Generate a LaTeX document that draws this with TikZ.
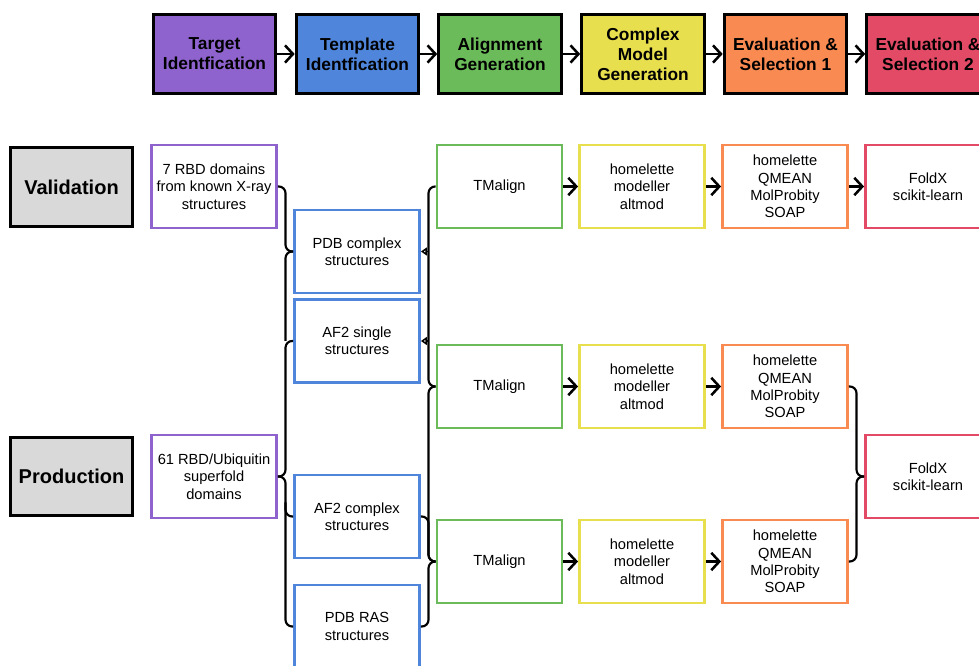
\documentclass[tikz,border=0pt]{standalone}
\usepackage{fontspec}
\setmainfont{Liberation Sans}
\usepackage{xcolor}
\usetikzlibrary{arrows.meta,calc}

\definecolor{tpurple}{RGB}{142,99,206}
\definecolor{tblue}{RGB}{79,134,219}
\definecolor{tgreen}{RGB}{108,187,90}
\definecolor{tyellow}{RGB}{232,223,79}
\definecolor{torange}{RGB}{249,139,82}
\definecolor{tred}{RGB}{226,74,101}
\definecolor{tgray}{RGB}{217,217,217}

\tikzset{
  stage/.style={draw=black, line width=2.2pt, minimum width=92pt, minimum height=59pt,
    align=center, inner sep=1pt, font=\bfseries\fontsize{13pt}{15pt}\selectfont},
  phase/.style={stage, fill=tgray, font=\bfseries\fontsize{15pt}{18pt}\selectfont},
  tool/.style={draw, fill=white, line width=1.9pt, minimum width=94pt, minimum height=62pt,
    align=center, inner sep=1pt, font=\fontsize{11pt}{13pt}\selectfont},
  flow/.style={line width=1.9pt, -{Straight Barb[length=6pt,width=13pt]}},
  brace/.style={line width=1.6pt, rounded corners=5pt},
  tinytip/.style={line width=1.3pt, -{Triangle[open,length=4.5pt,width=6pt]}}
}

\begin{document}
\begin{tikzpicture}[x=0.75pt,y=0.75pt,yscale=-1,xscale=1]
\useasboundingbox (0,0) rectangle (979,666);

%Stage header row
\node[stage, fill=tpurple] (target) at (214.5,54) {Target\\Identfication};
\node[stage, fill=tblue] (template) at (357.5,54) {Template\\Identfication};
\node[stage, fill=tgreen] (align) at (500,54) {Alignment\\Generation};
\node[stage, fill=tyellow] (complex) at (643,54) {Complex\\Model\\Generation};
\node[stage, fill=torange] (evalA) at (785.5,54) {Evaluation \&\\Selection 1};
\node[stage, fill=tred] (evalB) at (928,54) {Evaluation \&\\Selection 2};

\draw[flow] (target) -- (template);
\draw[flow] (template) -- (align);
\draw[flow] (align) -- (complex);
\draw[flow] (complex) -- (evalA);
\draw[flow] (evalA) -- (evalB);

%Phase labels
\node[phase] (validation) at (71.5,187) {Validation};
\node[phase] (production) at (71.5,476.5) {Production};

%Target column
\node[tool, draw=tpurple] (valdom) at (214,186.5) {7 RBD domains\\from known X-ray\\structures};
\node[tool, draw=tpurple] (proddom) at (214,476.5) {61 RBD/Ubiquitin\\superfold\\domains};

%Template column
\node[tool, draw=tblue] (pdbcx) at (357,251.5) {PDB complex\\structures};
\node[tool, draw=tblue] (af2single) at (357,341) {AF2 single\\structures};
\node[tool, draw=tblue] (af2cx) at (357,516.5) {AF2 complex\\structures};
\node[tool, draw=tblue] (pdbras) at (357,626.5) {PDB RAS\\structures};

%Alignment, model and evaluation rows
\foreach \r/\y in {1/186.5, 2/386.5, 3/561.5} {
  \node[tool, draw=tgreen] (tm\r) at (499.5,\y) {TMalign};
  \node[tool, draw=tyellow] (hm\r) at (642,\y) {homelette\\modeller\\altmod};
  \node[tool, draw=torange] (ev\r) at (785,\y) {homelette\\QMEAN\\MolProbity\\SOAP};
  \draw[flow] (tm\r) -- (hm\r);
  \draw[flow] (hm\r) -- (ev\r);
}

%Final selection
\node[tool, draw=tred] (fx1) at (928,186.5) {FoldX\\scikit-learn};
\node[tool, draw=tred] (fx2) at (928,476.5) {FoldX\\scikit-learn};
\draw[flow] (ev1) -- (fx1);

%Brace buses
\coordinate (lbus) at (285.5,0);
\coordinate (rbus) at (428.5,0);
\coordinate (fbus) at (856.5,0);

%Left braces
\draw[brace] (valdom.east) -| (lbus |- pdbcx.west) -- (pdbcx.west);
\draw[brace] (pdbcx.west) -| (lbus |- af2single.west);
\draw[brace] (af2single.west) -| (lbus |- proddom.east) -- (proddom.east);
\draw[brace] (proddom.east) -| (lbus |- pdbras.west) -- (pdbras.west);
\draw[brace] (af2cx.west) -| ($(lbus |- af2cx.west)+(0,-14)$);

%Right braces
\draw[brace] (tm1.west) -| (rbus |- tm2.west) -- (tm2.west);
\draw[brace] (tm2.west) -| (rbus |- tm3.west) -- (tm3.west);
\draw[brace] (af2cx.east) -| (rbus |- tm3.west) -- (tm3.west);
\draw[brace] (tm3.west) -| (rbus |- pdbras.east) -- (pdbras.east);
\draw[tinytip] (rbus |- pdbcx.east) -- (pdbcx.east);
\draw[tinytip] (rbus |- af2single.east) -- (af2single.east);

%Evaluation brace
\draw[brace] (ev2.east) -| (fbus |- fx2.west) -- (fx2.west);
\draw[brace] (fx2.west) -| (fbus |- ev3.east) -- (ev3.east);

\end{tikzpicture}
\end{document}
